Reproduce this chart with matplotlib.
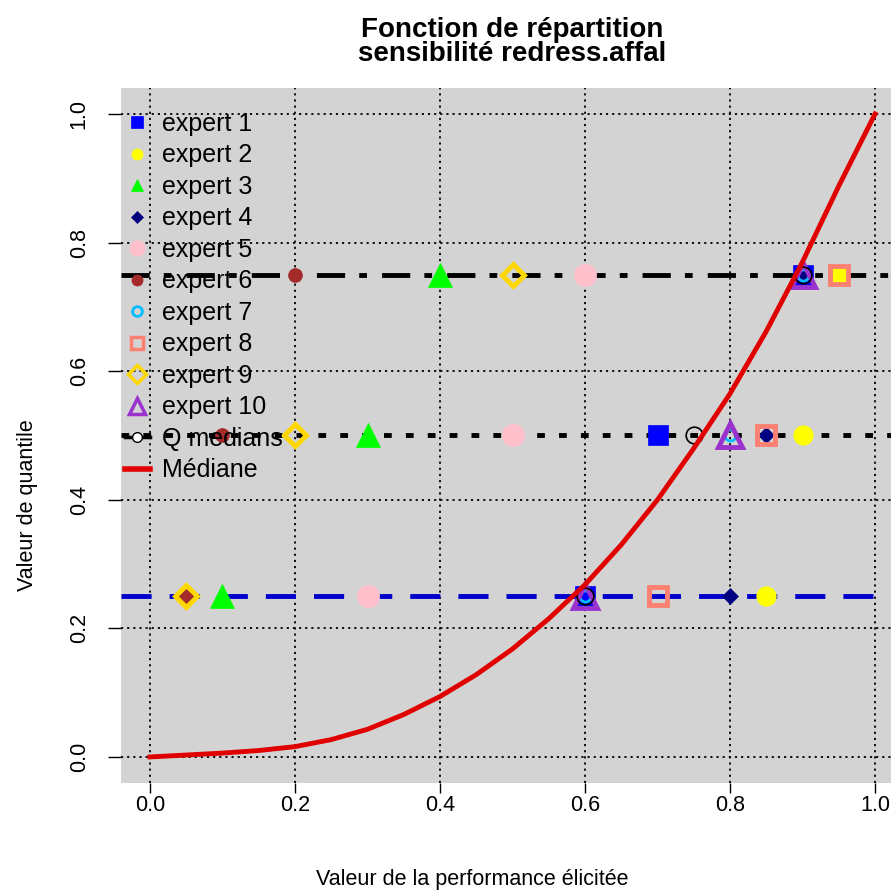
import matplotlib
matplotlib.use('Agg')
import matplotlib.pyplot as plt
from matplotlib.lines import Line2D

plt.rcParams['font.family'] = ['Liberation Sans', 'DejaVu Sans']

# quantile levels elicited from every expert
q_levels = [0.25, 0.50, 0.75]

# elicited performance values (x) per expert, one per quantile level
expert_1 = [0.60, 0.70, 0.90]
expert_2 = [0.85, 0.90, 0.95]
expert_3 = [0.10, 0.30, 0.40]
expert_4 = [0.80, 0.85, 0.90]
expert_5 = [0.30, 0.50, 0.60]
expert_6 = [0.05, 0.10, 0.20]
expert_7 = [0.60, 0.80, 0.90]
expert_8 = [0.70, 0.85, 0.95]
expert_9 = [0.05, 0.20, 0.50]
expert_10 = [0.60, 0.80, 0.90]

# median of the experts for every quantile level
q_medians = [0.60, 0.75, 0.90]

# median distribution function
median_x = [0.0, 0.05, 0.1, 0.15, 0.2, 0.25, 0.3, 0.35, 0.4, 0.45, 0.5,
            0.55, 0.6, 0.65, 0.7, 0.75, 0.8, 0.85, 0.9, 0.95, 1.0]
median_y = [0.0, 0.003, 0.006, 0.010, 0.016, 0.027, 0.043, 0.066, 0.094,
            0.128, 0.168, 0.215, 0.268, 0.33, 0.40, 0.48, 0.565, 0.662,
            0.77, 0.888, 1.0]

tick_vals = [0.0, 0.2, 0.4, 0.6, 0.8, 1.0]
tick_labels = ['0.0', '0.2', '0.4', '0.6', '0.8', '1.0']

experts = [expert_1, expert_2, expert_3, expert_4, expert_5,
           expert_6, expert_7, expert_8, expert_9, expert_10]
names = ['expert %d' % (i + 1) for i in range(10)]

# marker styles (plot size, legend size)
styles = [
    dict(marker='s', color='blue', ms=15, lms=8),
    dict(marker='o', color='yellow', ms=14, lms=8),
    dict(marker='^', color='#00FF00', ms=17, lms=9),
    dict(marker='D', color='#000080', ms=8, lms=6),
    dict(marker='o', color='pink', ms=16, lms=11),
    dict(marker='o', color='#A52A2A', ms=10, lms=8),
    dict(marker='o', color='#00BFFF', ms=8, lms=7, hollow=True, mew=2),
    dict(marker='s', color='salmon', ms=13, lms=8, hollow=True, mew=3.5),
    dict(marker='D', color='#FFD700', ms=11, lms=9, hollow=True, mew=3.5),
    dict(marker='^', color='#9A32CD', ms=17, lms=11, hollow=True, mew=3.5),
]

fig = plt.figure(figsize=(8.91, 8.90), dpi=100)
ax = fig.add_axes([0.1358, 0.1206, 0.8788, 0.7802])
ax.set_facecolor('#D3D3D3')
ax.set_xlim(-0.04, 1.04)
ax.set_ylim(-0.04, 1.04)
for s in ax.spines.values():
    s.set_visible(False)

ax.set_xticks(tick_vals)
ax.set_xticklabels(tick_labels)
ax.set_yticks(tick_vals)
ax.set_yticklabels(tick_labels, rotation=90, va='center')
ax.tick_params(axis='x', length=7, width=1, pad=2, labelsize=15.5)
ax.tick_params(axis='y', length=9.5, width=1, pad=13, labelsize=15.5)
ax.grid(True, color='black', linestyle=(0, (1.2, 2.2)), linewidth=1.3)
ax.set_axisbelow(True)

# quantile lines
ax.axhline(q_levels[0], color='#0000CD', lw=3.5, linestyle=(0, (6.2, 3.7)), zorder=2)
ax.axhline(q_levels[1], color='black', lw=3.5, linestyle=(0, (1.6, 2.9)), zorder=2)
ax.axhline(q_levels[2], color='black', lw=3.5, linestyle=(0, (5.8, 2.9, 1.6, 3.1)), zorder=2)

handles = []
for vals, st in zip(experts, styles):
    hollow = st.get('hollow', False)
    kw = dict(marker=st['marker'], linestyle='none',
              markerfacecolor='none' if hollow else st['color'],
              markeredgecolor=st['color'],
              markeredgewidth=st.get('mew', 0.5))
    ax.plot(vals, q_levels, markersize=st['ms'], zorder=3, **kw)
    kw['markeredgewidth'] = min(kw['markeredgewidth'], 2.5)
    handles.append(Line2D([], [], markersize=st['lms'], **kw))

ax.plot(q_medians, q_levels, linestyle='none', marker='o', markersize=12,
        markerfacecolor='none', markeredgecolor='black', markeredgewidth=1.2, zorder=3)
handles.append(Line2D([], [], color='black', lw=2.5, marker='o', markersize=7,
                      markerfacecolor='white', markeredgecolor='black'))

ax.plot(median_x, median_y, color='#E00000', lw=3.5, zorder=4)
handles.append(Line2D([], [], color='#E00000', lw=4))

leg = ax.legend(handles, names + ['Q medians', 'Médiane'], loc='upper left',
                bbox_to_anchor=(0.0045, 0.966), frameon=False, fontsize=18,
                handlelength=1.0, handletextpad=0.5, labelspacing=0.3,
                borderpad=0, borderaxespad=0)
leg.set_zorder(5)

fig.text(0.5746, 1 - 42 / 890, 'Fonction de répartition\nsensibilité redress.affal',
         ha='center', va='center', fontsize=20, fontweight='bold', linespacing=0.9)
fig.text(472 / 891, 1 - 879 / 890, 'Valeur de la performance élicitée',
         ha='center', va='center', fontsize=15.5)
fig.text(28 / 891, 1 - 505 / 890, 'Valeur de quantile', rotation=90,
         ha='center', va='center', fontsize=15.5)

fig.savefig('out.png', dpi=100)
